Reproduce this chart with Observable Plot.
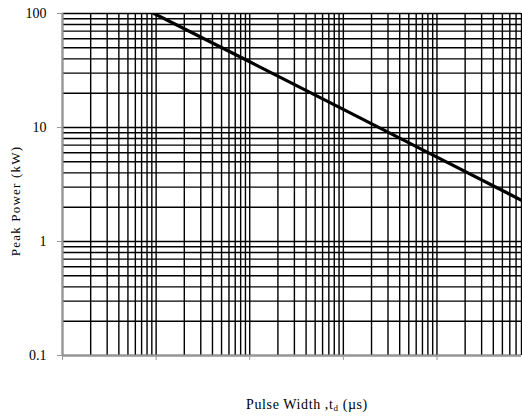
<!DOCTYPE html>
<html>
<head>
<meta charset="utf-8">
<script src="https://cdn.jsdelivr.net/npm/d3@7"></script>
<script src="https://cdn.jsdelivr.net/npm/@observablehq/plot@0.6"></script>
<style>
  html, body { margin: 0; padding: 0; background: #fff; }
  #chart svg { display: block; }
</style>
</head>
<body>
<div id="chart"></div>
<script>
// Pulse width (µs) and peak power (kW)
const pulseWidth = [9.5, 100, 1000, 10000, 80000];
const peakPower = [100, 37.7, 14.4, 5.5, 2.3];
const yTicks = [0.1, 1, 10, 100];
const yTickLabels = ["0.1", "1", "10", "100"];
const xTicks = [1, 10, 100, 1000, 10000];
const xDomain = [1, 80000];
const yDomain = [0.1, 100];

const data = pulseWidth.map((t, i) => ({t, p: peakPower[i]}));
const xGrid = d3.scaleLog().domain(xDomain).ticks();
const yGrid = d3.scaleLog().domain(yDomain).ticks();

const font = "'Liberation Serif', 'Times New Roman', serif";

const chart = Plot.plot({
  width: 522,
  height: 418,
  marginLeft: 62,
  marginRight: 1,
  marginTop: 13,
  marginBottom: 63,
  style: {fontFamily: font, fontSize: "14px", color: "#000", background: "#fff"},
  x: {type: "log", domain: xDomain},
  y: {type: "log", domain: yDomain},
  marks: [
    Plot.ruleY(yGrid, {y: d => d, stroke: "#000", strokeWidth: 1.4}),
    Plot.ruleX(xGrid, {x: d => d, stroke: "#000", strokeWidth: 1.4}),
    Plot.ruleX([xDomain[0]], {stroke: "#999", strokeWidth: 2}),
    Plot.ruleY([yDomain[0]], {stroke: "#999", strokeWidth: 2}),
    Plot.axisY(yTicks, {tickFormat: (d) => yTickLabels[yTicks.indexOf(d)], tickSize: 5, tickPadding: 11, stroke: "#999", fill: "#000", fontSize: 14, label: null}),
    Plot.axisX(xTicks, {tickFormat: () => "", tickSize: 5, stroke: "#999", label: null}),
    Plot.line(data, {x: "t", y: "p", stroke: "#000", strokeWidth: 3.2, clip: true})
  ]
});

const svg = d3.select(chart);
svg.append("text")
  .attr("transform", "translate(20,201) rotate(-90)")
  .attr("text-anchor", "middle")
  .attr("font-family", font)
  .attr("font-size", 13)
  .attr("letter-spacing", 1.2)
  .attr("fill", "#000")
  .text("Peak Power (kW)");

const xl = svg.append("text")
  .attr("x", 307).attr("y", 409)
  .attr("text-anchor", "middle")
  .attr("font-family", font)
  .attr("font-size", 14)
  .attr("letter-spacing", 0.6)
  .attr("fill", "#000");
xl.append("tspan").text("Pulse Width ,t");
xl.append("tspan").attr("font-size", 9).attr("dy", 2).text("d");
xl.append("tspan").attr("dy", -2).text(" (µs)");

document.getElementById("chart").appendChild(chart);
</script>
</body>
</html>
